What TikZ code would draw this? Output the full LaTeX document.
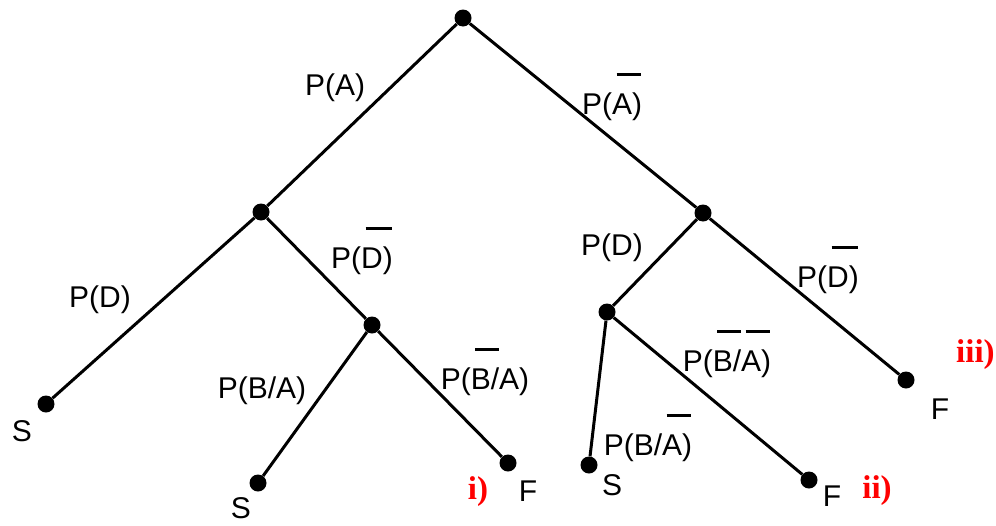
\documentclass[tikz,border=0pt]{standalone}
\usepackage{fontspec}
\setmainfont{Liberation Sans}
\newfontfamily\redfont{Liberation Serif}
\newcommand\ob[1]{\setbox0\hbox{#1}\leavevmode\rlap{\hskip0.15em\raisebox{1.3em}{\rule{1.2\wd0}{3pt}}}\box0}
\tikzset{
  dot/.style={circle,fill=black,inner sep=0pt,minimum size=17pt},
  edge/.style={line width=3pt},
  lbl/.style={inner sep=0pt,font=\fontsize{30}{34}\selectfont},
  red/.style={inner sep=0pt,text=red,font=\fontsize{33}{36}\selectfont\redfont\bfseries}
}
\begin{document}
\begin{tikzpicture}[x=1pt,y=-1pt]
\useasboundingbox (0,0) rectangle (996,525);
\node[dot] (root) at (463,18) {};
\node[dot] (l1) at (261,212) {};
\node[dot] (r1) at (703,213) {};
\node[dot] (ll) at (46,404) {};
\node[dot] (lr) at (372,325) {};
\node[dot] (lrl) at (258,483) {};
\node[dot] (lrr) at (508,463) {};
\node[dot] (rl) at (607,312) {};
\node[dot] (rll) at (589,465) {};
\node[dot] (rlr) at (809,480) {};
\node[dot] (rr) at (906,380) {};
\draw[edge] (root) -- (l1);
\draw[edge] (root) -- (r1);
\draw[edge] (l1) -- (ll);
\draw[edge] (l1) -- (lr);
\draw[edge] (lr) -- (lrl);
\draw[edge] (lr) -- (lrr);
\draw[edge] (r1) -- (rl);
\draw[edge] (r1) -- (rr);
\draw[edge] (rl) -- (rll);
\draw[edge] (rl) -- (rlr);
\node[lbl] (t1) at (335,88) {P(A)};
\node[lbl] (t2) at (612,97) {P(\ob{A})};
\node[lbl] (t3) at (100,300) {P(D)};
\node[lbl] (t4) at (362,251) {P(\ob{D})};
\node[lbl] (t5) at (262,391) {P(B/A)};
\node[lbl] (t6) at (485,372) {P(\ob{B}/A)};
\node[lbl] (t7) at (612,248) {P(D)};
\node[lbl] (t8) at (828,270) {P(\ob{D})};
\node[lbl] (t9) at (727,354) {P(\ob{B}/\ob{A})};
\node[lbl] (t10) at (648,438) {P(B/\ob{A})};
\node[lbl] (s1) at (22,431) {S};
\node[lbl] (s2) at (241,508) {S};
\node[lbl] (f1) at (528,491) {F};
\node[lbl] (s3) at (612,485) {S};
\node[lbl] (f2) at (832,496) {F};
\node[lbl] (f3) at (940,409) {F};
\node[red] (i1) at (478,492) {i)};
\node[red] (i2) at (877,491) {ii)};
\node[red,anchor=west] (i3) at (956,355) {iii)};
\end{tikzpicture}
\end{document}
